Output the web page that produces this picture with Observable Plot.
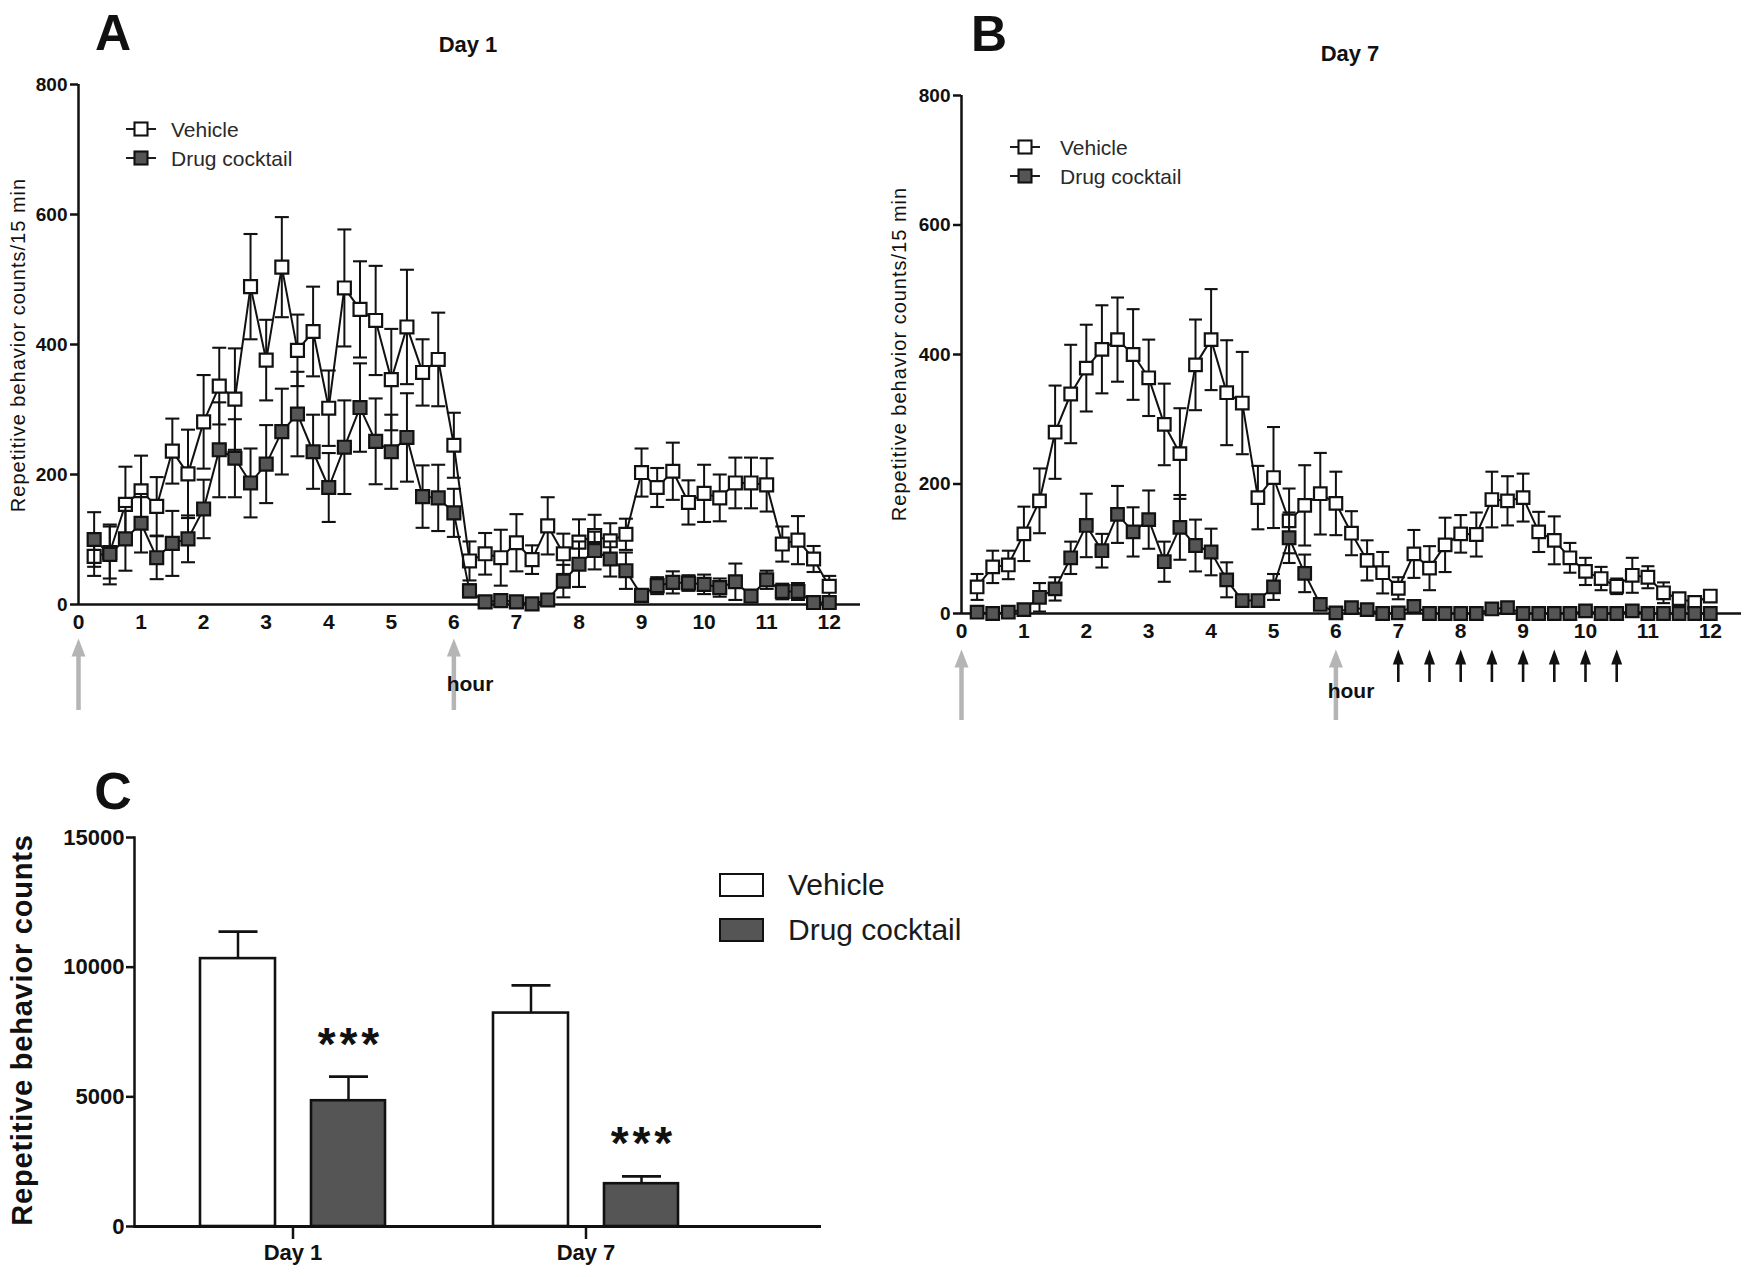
<!DOCTYPE html>
<html><head><meta charset="utf-8">
<script src="https://cdn.jsdelivr.net/npm/d3@7"></script>
<script src="https://cdn.jsdelivr.net/npm/@observablehq/plot@0.6"></script>
<style>
body{margin:0;background:#fff;}
#wrap{position:relative;width:1751px;height:1277px;font-family:"Liberation Sans",Arial,sans-serif;color:#111;overflow:hidden;background:#fff}
.abs{position:absolute;white-space:nowrap;line-height:1}
.c{transform:translate(-50%,-50%)}
.rot{transform:translate(-50%,-50%) rotate(-90deg)}
.lv{transform:translateY(-50%)}
svg.plot{position:absolute}
</style></head><body><div id="wrap"></div>
<script>
// ---------------- data ----------------
const times = [0.25,0.5,0.75,1,1.25,1.5,1.75,2,2.25,2.5,2.75,3,3.25,3.5,3.75,4,4.25,4.5,4.75,5,5.25,5.5,5.75,6,
  6.25,6.5,6.75,7,7.25,7.5,7.75,8,8.25,8.5,8.75,9,9.25,9.5,9.75,10,10.25,10.5,10.75,11,11.25,11.5,11.75,12];
const hourTicks = [0,1,2,3,4,5,6,7,8,9,10,11,12];
const countTicks = [0,200,400,600,800];

// Panel A (Day 1)
const day1Vehicle = [74,80,154,175,151,236,201,281,336,316,489,376,519,391,420,302,487,454,437,346,427,357,377,245,
  67,78,72,95,69,121,78,96,106,98,108,203,180,205,157,171,164,187,187,184,93,99,70,28];
const day1VehicleErr = [30,40,58,54,45,50,68,72,59,78,81,62,77,55,69,58,90,74,84,78,88,51,72,50,
  30,32,43,44,22,44,31,35,32,27,24,37,30,44,34,44,36,39,39,41,27,37,20,16];
const day1Drug = [100,77,101,125,72,94,101,147,238,225,187,216,266,293,235,180,242,303,251,235,257,166,164,141,
  21,4,6,4,1,7,36,62,83,70,52,14,29,34,33,31,26,35,13,38,20,20,3,3];
const day1DrugErr = [42,46,49,45,33,50,36,45,73,60,53,60,66,65,57,53,72,68,66,57,68,48,51,37,
  10,5,6,5,3,6,25,35,29,27,28,8,13,17,12,15,14,28,8,14,12,13,4,5];

// Panel B (Day 7)
const day7Vehicle = [41,72,75,123,174,280,339,379,408,423,400,364,292,247,384,423,341,325,179,210,143,167,185,170,
  124,82,63,39,92,70,106,123,122,176,174,179,126,113,86,65,54,42,59,56,32,23,17,27];
const day7VehicleErr = [20,25,22,42,50,72,76,67,68,65,70,59,63,70,70,78,81,79,49,78,50,62,63,49,
  34,31,32,17,37,34,42,29,34,43,38,37,31,37,23,21,18,12,27,17,16,8,6,8];
const day7Drug = [2,0,2,6,25,38,86,136,97,153,126,145,80,133,105,95,52,20,20,41,117,62,14,1,
  9,6,0,1,11,0,0,0,0,7,9,0,0,0,0,4,0,0,4,0,0,0,0,0];
const day7DrugErr = [3,2,3,5,22,18,25,49,26,44,38,45,31,50,40,36,27,6,6,20,39,29,5,2,
  4,3,2,2,4,1,1,1,1,3,3,1,1,1,1,2,1,1,2,1,1,1,1,1];

// injection arrows (hours)
const injectionsA = [0,6];
const injectionsB = [0,6];
const extraDosesB = [7,7.5,8,8.5,9,9.5,10,10.5];

// Panel C totals
const days = ["Day 1","Day 7"];
const totalTicks = [0,5000,10000,15000];
const totalVehicle = [10330,8230];
const totalVehicleErr = [1040,1070];
const totalDrug = [4850,1650];
const totalDrugErr = [930,280];

// ---------------- helpers ----------------
const INK = "#111";
const DRUG = "#555";
const ARROW_GRAY = "#b5b5b5";
const cap = (w) => ({draw(ctx){ctx.moveTo(-w/2,0);ctx.lineTo(w/2,0);}});
const head = (w,h) => ({draw(ctx){ctx.moveTo(0,0);ctx.lineTo(w/2,h);ctx.lineTo(-w/2,h);ctx.closePath();}});
const wrap = document.getElementById("wrap");
function place(node, left, top){ node.style.position="absolute"; node.style.left=left+"px"; node.style.top=top+"px"; wrap.appendChild(node); }
function label(text, x, y, css, cls){ const d=document.createElement("div"); d.className="abs "+(cls||"c"); d.textContent=text; d.style.left=x+"px"; d.style.top=y+"px"; Object.assign(d.style, css||{}); wrap.appendChild(d); return d; }

function linePanel(cfg){
  const {veh, vehErr, drug, drugErr, w, h, mL, mT, mB, mR, gray, black, sq, capW, grayTip, grayBot, blackTip, blackBot} = cfg;
  const ph = h - mT - mB;
  const below = px => -px * 800 / ph;
  const rows = (vals, errs) => times.map((t,i)=>({t, v: vals[i], e: errs[i]}));
  const V = rows(veh, vehErr), D = rows(drug, drugErr);
  const series = (data, fill) => [
    Plot.line(data, {x:"t", y:"v", stroke:INK, strokeWidth:2}),
    Plot.ruleX(data, {x:"t", y1:d=>Math.max(0,d.v-d.e), y2:d=>d.v+d.e, stroke:INK, strokeWidth:2}),
    Plot.dot(data, {x:"t", y:d=>d.v+d.e, symbol:cap(capW), stroke:INK, strokeWidth:2.1, fill:"none"}),
    Plot.dot(data.filter(d=>d.v-d.e>0), {x:"t", y:d=>d.v-d.e, symbol:cap(capW), stroke:INK, strokeWidth:2.1, fill:"none"}),
    Plot.dot(data, {x:"t", y:"v", symbol:"square", r:sq, fill, stroke:INK, strokeWidth:2.2})
  ];
  const marks = [
    Plot.ruleX([0], {y1:0, y2:800, stroke:INK, strokeWidth:2.5}),
    Plot.ruleY([0], {x1:0, x2:12.5, stroke:INK, strokeWidth:2.5}),
    Plot.axisX({ticks:hourTicks, tickSize:0, tickPadding:10, fontSize:21, fontWeight:"bold", label:null, tickFormat:d=>String(d)}),
    Plot.axisY({ticks:countTicks, tickSize:8, tickPadding:3, fontSize:19, fontWeight:"bold", label:null, strokeWidth:2.5, tickFormat:d=>String(d)}),
    ...series(V, "white"),
    ...series(D, DRUG),
    Plot.ruleX(gray, {x:d=>d, y1:()=>below(grayTip+14), y2:()=>below(grayBot), stroke:ARROW_GRAY, strokeWidth:4.5}),
    Plot.dot(gray, {x:d=>d, y:()=>below(grayTip), symbol:head(14,18), fill:ARROW_GRAY, stroke:"none"})
  ];
  if (black) marks.push(
    Plot.ruleX(black, {x:d=>d, y1:()=>below(blackTip+10), y2:()=>below(blackBot), stroke:INK, strokeWidth:2.6}),
    Plot.dot(black, {x:d=>d, y:()=>below(blackTip), symbol:head(11,15), fill:INK, stroke:"none"})
  );
  return Plot.plot({
    width:w, height:h, marginLeft:mL, marginTop:mT, marginBottom:mB, marginRight:mR,
    x:{domain:[0,12.5]}, y:{domain:[0,800]},
    style:{fontFamily:'"Liberation Sans", Arial, sans-serif', color:INK, background:"transparent", overflow:"visible"},
    marks
  });
}

function legendEntry(x, y, fill, text, textX){
  const ns="http://www.w3.org/2000/svg";
  const s=document.createElementNS(ns,"svg"); s.setAttribute("width",34); s.setAttribute("height",20);
  s.innerHTML = `<line x1="2" x2="32" y1="10" y2="10" stroke="${INK}" stroke-width="1.9"/>`+
    `<rect x="10.5" y="3.5" width="13" height="13" fill="${fill}" stroke="${INK}" stroke-width="2.1"/>`;
  place(s, x-17, y-10);
  label(text, textX, y, {fontSize:"21px", color:"#2a2a2a"}, "lv");
}

// ---------------- Panel A ----------------
const A = linePanel({veh:day1Vehicle, vehErr:day1VehicleErr, drug:day1Drug, drugErr:day1DrugErr,
  w:880, h:740, mL:78, mT:84, mB:136, mR:20, gray:injectionsA, black:null, sq:7.3, capW:14,
  grayTip:34, grayBot:106});
place(A, 0, 0);
label("A", 113, 33, {fontSize:"50px", fontWeight:"bold"});
label("Day 1", 468, 45, {fontSize:"22px", fontWeight:"bold"});
label("Repetitive behavior counts/15 min", 18, 345, {fontSize:"20px", letterSpacing:"1px"}, "rot");
label("hour", 470, 683, {fontSize:"21px", fontWeight:"bold"});
legendEntry(141, 129, "white", "Vehicle", 171);
legendEntry(141, 158, DRUG, "Drug cocktail", 171);

// ---------------- Panel B ----------------
const B = linePanel({veh:day7Vehicle, vehErr:day7VehicleErr, drug:day7Drug, drugErr:day7DrugErr,
  w:871, h:740, mL:81, mT:95, mB:127, mR:10, gray:injectionsB, black:extraDosesB, sq:7.1, capW:13,
  grayTip:36, grayBot:107, blackTip:36, blackBot:69});
place(B, 880, 0);
label("B", 989, 34, {fontSize:"50px", fontWeight:"bold"});
label("Day 7", 1350, 54, {fontSize:"22px", fontWeight:"bold"});
label("Repetitive behavior counts/15 min", 899, 354, {fontSize:"20px", letterSpacing:"1px"}, "rot");
label("hour", 1351, 690, {fontSize:"21px", fontWeight:"bold"});
legendEntry(1025, 147, "white", "Vehicle", 1060);
legendEntry(1025, 176, DRUG, "Drug cocktail", 1060);

// ---------------- Panel C ----------------
const TV = days.map((d,i)=>({day:d, v:totalVehicle[i], e:totalVehicleErr[i]}));
const TD = days.map((d,i)=>({day:d, v:totalDrug[i], e:totalDrugErr[i]}));
const C = Plot.plot({
  width:900, height:517, marginLeft:134, marginTop:77, marginBottom:51, marginRight:156.5,
  x:{domain:days, paddingInner:0.369, paddingOuter:0.222},
  y:{domain:[0,15000]},
  style:{fontFamily:'"Liberation Sans", Arial, sans-serif', color:INK, background:"transparent", overflow:"visible"},
  marks:[
    Plot.ruleX(TV, {x:"day", y1:"v", y2:d=>d.v+d.e, dx:-55, stroke:INK, strokeWidth:2.5}),
    Plot.dot(TV, {x:"day", y:d=>d.v+d.e, dx:-55, symbol:cap(39), stroke:INK, strokeWidth:2.8, fill:"none"}),
    Plot.ruleX(TD, {x:"day", y1:"v", y2:d=>d.v+d.e, dx:55.5, stroke:INK, strokeWidth:2.5}),
    Plot.dot(TD, {x:"day", y:d=>d.v+d.e, dx:55.5, symbol:cap(39), stroke:INK, strokeWidth:2.8, fill:"none"}),
    Plot.barY(TV, {x:"day", y:"v", insetRight:110, fill:"white", stroke:INK, strokeWidth:2.6}),
    Plot.barY(TD, {x:"day", y:"v", insetLeft:111, fill:DRUG, stroke:INK, strokeWidth:2.6}),
    Plot.text(TD, {x:"day", y:d=>d.v+d.e, dx:55.5, dy:-17, text:()=>"*\u200A*\u200A*", fontSize:46, fontWeight:"bold", lineAnchor:"bottom", fill:INK}),
    Plot.frame({anchor:"left", stroke:INK, strokeWidth:2.5}),
    Plot.ruleY([0], {insetRight:-77.5, stroke:INK, strokeWidth:2.8}),
    Plot.axisX({tickSize:13, tickPadding:5, fontSize:22, fontWeight:"bold", label:null, strokeWidth:2.5}),
    Plot.axisY({ticks:totalTicks, tickSize:8, tickPadding:2, fontSize:22, fontWeight:"bold", label:null, strokeWidth:2.5, tickFormat:d=>String(d)})
  ]
});
place(C, 0, 760);
label("C", 113, 791, {fontSize:"52px", fontWeight:"bold"});
label("Repetitive behavior counts", 22, 1030, {fontSize:"29px", fontWeight:"bold", letterSpacing:"0.8px"}, "rot");
function boxLegend(y, fill, text){
  const d=document.createElement("div");
  Object.assign(d.style,{width:"41px",height:"20px",border:"2.6px solid "+INK,background:fill,boxSizing:"content-box"});
  place(d, 719, y-12);
  label(text, 788, y, {fontSize:"30px", color:"#1a1a1a"}, "lv");
}
boxLegend(885, "white", "Vehicle");
boxLegend(930, DRUG, "Drug cocktail");
</script></body></html>
